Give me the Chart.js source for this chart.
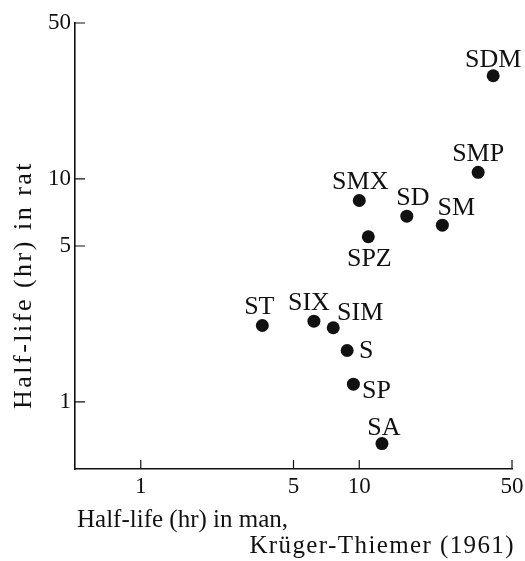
<!DOCTYPE html>
<html>
<head>
<meta charset="utf-8">
<script src="https://cdn.jsdelivr.net/npm/chart.js@4.4.1/dist/chart.umd.min.js"></script>
<style>
  html, body { margin: 0; padding: 0; background: #fff; }
  #wrap { width: 525px; height: 561px; }
</style>
</head>
<body>
<div id="wrap"><canvas id="chart" width="525" height="561"></canvas></div>
<script>
// Sulfonamide half-lives: man vs rat (hours)
const drugs        = ['SDM', 'SMP', 'SMX', 'SD', 'SM', 'SPZ', 'ST', 'SIX', 'SIM', 'S', 'SP', 'SA'];
const halfLifeMan  = [41, 35, 10, 16.5, 24, 11, 3.6, 6.2, 7.6, 8.8, 9.4, 12.7];
const halfLifeRat  = [29, 10.7, 8.0, 6.8, 6.2, 5.5, 2.2, 2.3, 2.15, 1.7, 1.2, 0.65];
const xTickValues  = [1, 5, 10, 50];
const yTickValues  = [1, 5, 10, 50];
const xTitleLines  = ['Half-life (hr) in man,', 'Krüger-Thiemer (1961)'];
const yTitle       = 'Half-life (hr) in rat';

// where each drug label sits relative to its dot (px)
const labelOffsets = {
  SDM: [0, -17], SMP: [0, -19], SMX: [1, -19], SD: [6, -19], SM: [14, -18],
  SPZ: [1, 21], ST: [-3, -19], SIX: [-5, -19], SIM: [27, -16], S: [19, 0],
  SP: [23, 6], SA: [2, -16]
};

const SERIF = '"Liberation Serif", "Times New Roman", serif';
const INK = '#111';

const points = drugs.map((d, i) => ({ x: halfLifeMan[i], y: halfLifeRat[i], name: d }));

const decorations = {
  id: 'decorations',
  afterDraw(chart) {
    const { ctx, chartArea, scales: { x, y } } = chart;
    ctx.save();
    // inward tick marks
    ctx.strokeStyle = INK;
    ctx.lineWidth = 1.2;
    ctx.beginPath();
    xTickValues.forEach(v => {
      const px = x.getPixelForValue(v);
      ctx.moveTo(px, chartArea.bottom);
      ctx.lineTo(px, chartArea.bottom - 9);
    });
    yTickValues.forEach(v => {
      const py = y.getPixelForValue(v);
      ctx.moveTo(chartArea.left, py);
      ctx.lineTo(chartArea.left + 10, py);
    });
    ctx.stroke();

    // drug labels
    ctx.fillStyle = INK;
    ctx.font = '26px ' + SERIF;
    ctx.textAlign = 'center';
    ctx.textBaseline = 'middle';
    const meta = chart.getDatasetMeta(0);
    meta.data.forEach((el, i) => {
      const name = drugs[i];
      const [dx, dy] = labelOffsets[name];
      ctx.fillText(name, el.x + dx, el.y + dy + 1);
    });

    // x axis title (two lines)
    ctx.font = '25px ' + SERIF;
    ctx.textBaseline = 'alphabetic';
    ctx.textAlign = 'left';
    ctx.letterSpacing = '0px';
    ctx.fillText(xTitleLines[0], 77, 527);
    ctx.textAlign = 'right';
    ctx.letterSpacing = '1.4px';
    ctx.fillText(xTitleLines[1], 515, 553);

    // y axis title
    ctx.translate(31, 285);
    ctx.rotate(-Math.PI / 2);
    ctx.textAlign = 'center';
    ctx.font = '26px ' + SERIF;
    ctx.letterSpacing = '2.5px';
    ctx.fillText(yTitle, 0, 0);
    ctx.restore();
  }
};

new Chart(document.getElementById('chart'), {
  type: 'scatter',
  data: {
    datasets: [{
      data: points,
      backgroundColor: INK,
      borderColor: INK,
      pointRadius: 6.5,
      pointHoverRadius: 6.5,
      borderWidth: 0
    }]
  },
  options: {
    responsive: false,
    animation: false,
    events: [],
    layout: { padding: { top: 23, right: 13, left: 0, bottom: 0 } },
    plugins: { legend: { display: false }, tooltip: { enabled: false } },
    scales: {
      x: {
        type: 'logarithmic',
        min: 0.5,
        max: 50,
        afterBuildTicks: s => { s.ticks = xTickValues.map(v => ({ value: v })); },
        afterFit: s => { s.height = 92; s.paddingLeft = 0; s.paddingRight = 0; },
        grid: { display: false, drawTicks: false },
        border: { display: true, color: INK, width: 1.6 },
        ticks: {
          color: INK,
          padding: 4,
          maxRotation: 0,
          autoSkip: false,
          font: { family: SERIF, size: 23 },
          callback: v => String(v)
        }
      },
      y: {
        type: 'logarithmic',
        min: 0.5,
        max: 50,
        afterBuildTicks: s => { s.ticks = yTickValues.map(v => ({ value: v })); },
        afterFit: s => { s.width = 75; s.paddingTop = 0; s.paddingBottom = 0; },
        grid: { display: false, drawTicks: false },
        border: { display: true, color: INK, width: 1.6 },
        ticks: {
          color: INK,
          padding: 4,
          autoSkip: false,
          font: { family: SERIF, size: 23 },
          callback: v => String(v)
        }
      }
    }
  },
  plugins: [decorations]
});
</script>
</body>
</html>
